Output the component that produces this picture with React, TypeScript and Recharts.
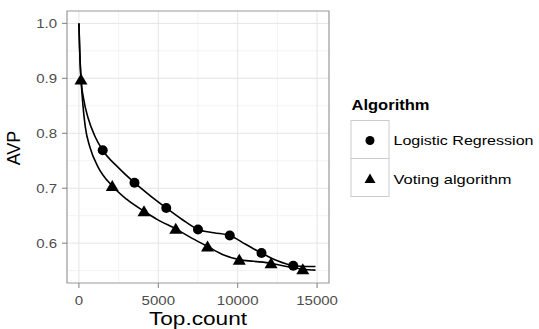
import {
  ComposedChart,
  Line,
  Scatter,
  XAxis,
  YAxis,
  CartesianGrid,
  ReferenceArea,
} from 'recharts';

const SERIES_NAMES = ['Logistic Regression', 'Voting algorithm'];
const X_TITLE = 'Top.count';
const Y_TITLE = 'AVP';
const LEGEND_TITLE = 'Algorithm';

// dense curve points
const LR_LINE_X = [0, 50, 130, 300, 600, 1000, 1500, 2500, 3500, 4500, 5500, 6500, 7500, 8500, 9500, 10500, 11500, 12500, 13500, 14000, 14900];
const LR_LINE_Y = [1.0, 0.95, 0.9, 0.862, 0.826, 0.795, 0.769, 0.737, 0.71, 0.686, 0.664, 0.643, 0.625, 0.619, 0.614, 0.598, 0.582, 0.568, 0.559, 0.558, 0.5575];
const VA_LINE_X = [0, 50, 130, 250, 400, 700, 1200, 2100, 3000, 4100, 5000, 6100, 7000, 8100, 9000, 10100, 11000, 12100, 13000, 14100, 14900];
const VA_LINE_Y = [1.0, 0.95, 0.9, 0.852, 0.812, 0.774, 0.739, 0.704, 0.68, 0.658, 0.642, 0.626, 0.611, 0.594, 0.58, 0.57, 0.567, 0.5635, 0.558, 0.5525, 0.551];

// marker positions
const LR_PT_X = [1500, 3500, 5500, 7500, 9500, 11500, 13500];
const LR_PT_Y = [0.769, 0.71, 0.664, 0.625, 0.614, 0.582, 0.559];
const VA_PT_X = [130, 2100, 4100, 6100, 8100, 10100, 12100, 14100];
const VA_PT_Y = [0.898, 0.704, 0.658, 0.626, 0.594, 0.57, 0.5635, 0.5525];

const X_TICKS = [0, 5000, 10000, 15000];
const X_MINOR = [2500, 7500, 12500];
const Y_TICKS = [0.6, 0.7, 0.8, 0.9, 1.0];
const Y_MINOR = [0.55, 0.65, 0.75, 0.85, 0.95];

const X_DOMAIN: [number, number] = [-750, 15750];
const Y_DOMAIN: [number, number] = [0.5275, 1.0225];

const zip = (xs: number[], ys: number[]) => xs.map((x, i) => ({ x, y: ys[i] }));

const FONT = '"Liberation Sans", Arial, sans-serif';

// text in the picture is a bit wide, so stretch it to measured width
const labelWidth = (s: string, em: number) =>
  s.split('').reduce((w, c) => w + (c === '.' ? 0.278 : 0.556) * em, 0);

function XTick(props: any) {
  const { x, y, payload } = props;
  const s = String(payload.value);
  return (
    <text x={x} y={y} dy="0.71em" textAnchor="middle" fontSize={13} fill="#4d4d4d" fontFamily={FONT}
      textLength={labelWidth(s, 15)} lengthAdjust="spacingAndGlyphs">
      {s}
    </text>
  );
}

function YTick(props: any) {
  const { x, y, payload } = props;
  const s = Number(payload.value).toFixed(1);
  return (
    <text x={x} y={y} dy="0.36em" textAnchor="end" fontSize={13} fill="#4d4d4d" fontFamily={FONT}
      textLength={labelWidth(s, 15)} lengthAdjust="spacingAndGlyphs">
      {s}
    </text>
  );
}

const Dot = (props: any) => <circle cx={props.cx} cy={props.cy} r={5} fill="#000" />;
const Tri = (props: any) => {
  const { cx, cy } = props;
  return <polygon points={`${cx},${cy - 6} ${cx - 6.5},${cy + 5} ${cx + 6.5},${cy + 5}`} fill="#000" />;
};

function AxisTitles() {
  return (
    <svg width={340} height={329} style={{ position: 'absolute', left: 0, top: 0, pointerEvents: 'none' }}>
      <text x={198} y={325} textAnchor="middle" fontSize={18} fontFamily={FONT} fill="#000"
        textLength={98} lengthAdjust="spacingAndGlyphs">
        {X_TITLE}
      </text>
      <text x={20} y={148} textAnchor="middle" fontSize={18} fontFamily={FONT} fill="#000"
        transform="rotate(-90 20 148)">
        {Y_TITLE}
      </text>
    </svg>
  );
}

function LegendBox() {
  return (
    <svg width={190} height={130} style={{ position: 'absolute', left: 345, top: 85 }}>
      <text x={6.5} y={25} fontSize={14} fontWeight="bold" fontFamily={FONT} fill="#000"
        textLength={78} lengthAdjust="spacingAndGlyphs">
        {LEGEND_TITLE}
      </text>
      <rect x={6} y={35.5} width={38} height={38} fill="#fff" stroke="#cccccc" />
      <rect x={6} y={73.5} width={38} height={38} fill="#fff" stroke="#cccccc" />
      <circle cx={25} cy={55.5} r={4.5} fill="#000" />
      <polygon points="25,88.5 19.5,98 30.5,98" fill="#000" />
      <text x={48.5} y={60} fontSize={13} fontFamily={FONT} fill="#000"
        textLength={140} lengthAdjust="spacingAndGlyphs">
        {SERIES_NAMES[0]}
      </text>
      <text x={48.5} y={98.5} fontSize={13} fontFamily={FONT} fill="#000"
        textLength={118} lengthAdjust="spacingAndGlyphs">
        {SERIES_NAMES[1]}
      </text>
    </svg>
  );
}

export default function App() {
  return (
    <div style={{ position: 'fixed', left: 0, top: 0, width: 539, height: 329, background: '#fff' }}>
      <ComposedChart width={340} height={329} margin={{ top: 11, right: 11, bottom: 0, left: 0 }}>
        <CartesianGrid stroke="#f3f3f3" verticalValues={X_MINOR} horizontalValues={Y_MINOR} />
        <CartesianGrid stroke="#e5e5e5" verticalValues={X_TICKS} horizontalValues={Y_TICKS} />
        <XAxis
          type="number"
          dataKey="x"
          domain={X_DOMAIN}
          ticks={X_TICKS}
          allowDataOverflow
          axisLine={false}
          tickSize={5}
          tickMargin={8}
          tickLine={{ stroke: '#7f7f7f' }}
          tick={<XTick />}
          height={46}
        />
        <YAxis
          type="number"
          dataKey="y"
          domain={Y_DOMAIN}
          ticks={Y_TICKS}
          allowDataOverflow
          axisLine={false}
          tickSize={5}
          tickMargin={5}
          tickLine={{ stroke: '#7f7f7f' }}
          tick={<YTick />}
          width={67}
        />
        <ReferenceArea x1={X_DOMAIN[0]} x2={X_DOMAIN[1]} y1={Y_DOMAIN[0]} y2={Y_DOMAIN[1]}
          fill="none" stroke="#999999" strokeWidth={1.2} />
        <Line data={zip(LR_LINE_X, LR_LINE_Y)} dataKey="y" type="monotone" stroke="#000" strokeWidth={1.6}
          dot={false} isAnimationActive={false} name={SERIES_NAMES[0]} />
        <Line data={zip(VA_LINE_X, VA_LINE_Y)} dataKey="y" type="monotone" stroke="#000" strokeWidth={1.6}
          dot={false} isAnimationActive={false} name={SERIES_NAMES[1]} />
        <Scatter data={zip(LR_PT_X, LR_PT_Y)} dataKey="y" shape={<Dot />} isAnimationActive={false} />
        <Scatter data={zip(VA_PT_X, VA_PT_Y)} dataKey="y" shape={<Tri />} isAnimationActive={false} />
      </ComposedChart>
      <AxisTitles />
      <LegendBox />
    </div>
  );
}
